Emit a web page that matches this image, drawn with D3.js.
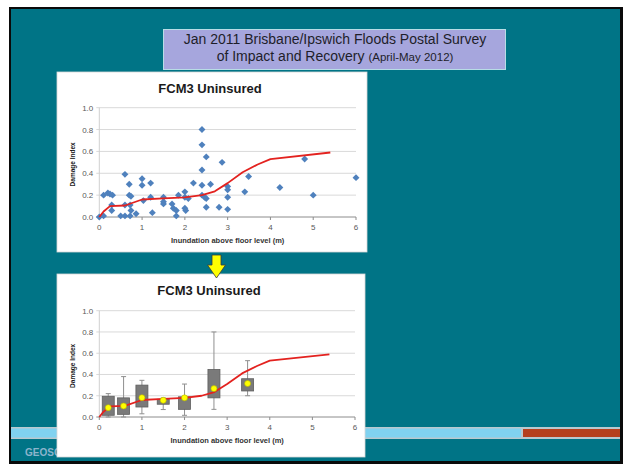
<!DOCTYPE html>
<html>
<head>
<meta charset="utf-8">
<script src="https://cdn.jsdelivr.net/npm/d3@7"></script>
<style>
  body { margin: 0; background: #ffffff; }
  svg { display: block; }
</style>
</head>
<body>
<div id="chartContainer"></div>
<script>
// slide size
var WIDTH = 623;
var HEIGHT = 464;
var FONT = "'Liberation Sans', Arial, sans-serif";

// axis ticks
var X_TICKS = [0, 1, 2, 3, 4, 5, 6];
var Y_TICKS = [0, 0.2, 0.4, 0.6, 0.8, 1.0];

// survey responses (scatter, top chart)
var scatterX = [0, 0.1, 0.1, 0.2, 0.25, 0.31, 0.29, 0.29, 0.5, 0.6, 0.6, 0.6,
  0.7, 0.7, 0.74, 0.72, 0.74, 0.72, 0.86, 1.0, 1.0, 1.03, 1.2, 1.2, 1.24,
  1.5, 1.5, 1.5, 1.7, 1.73, 1.8, 1.8, 1.85, 2.0, 2.0, 2.0, 2.02, 2.08, 2.2,
  2.4, 2.4, 2.5, 2.4, 2.4, 2.4, 2.46, 2.5, 2.5, 2.6, 2.87, 2.8, 3.0, 3.0,
  3.0, 3.0, 3.4, 3.49, 4.22, 4.8, 5.0, 6.0];
var scatterY = [0, 0.01, 0.2, 0.22, 0.21, 0.2, 0.11, 0.06, 0.01, 0.39, 0.11, 0.01,
  0.3, 0.2, 0.19, 0.11, 0.06, 0.01, 0.03, 0.35, 0.29, 0.15, 0.31, 0.18, 0.04,
  0.18, 0.14, 0.12, 0.12, 0.08, 0.06, 0.01, 0.2, 0.23, 0.18, 0.08, 0.06, 0.17, 0.31,
  0.8, 0.66, 0.55, 0.43, 0.29, 0.2, 0.18, 0.17, 0.09, 0.3, 0.5, 0.09, 0.28, 0.25,
  0.18, 0.07, 0.23, 0.37, 0.27, 0.53, 0.2, 0.36];

// FCM3 damage curve (red line)
var curveX = [0, 0.1, 0.25, 0.6, 1.0, 1.5, 2.0, 2.4, 2.7, 3.0, 3.35, 3.7, 4.0, 5.4];
var curveY = [0, 0.05, 0.1, 0.105, 0.16, 0.17, 0.18, 0.2, 0.235, 0.31, 0.41, 0.48, 0.53, 0.59];

// binned box plots (bottom chart)
var boxX    = [0.21, 0.57, 1.0, 1.5, 2.0, 2.69, 3.48];
var boxMin  = [0.0, 0.0, 0.03, 0.07, 0.016, 0.072, 0.2];
var boxQ1   = [0.016, 0.025, 0.094, 0.12, 0.072, 0.18, 0.245];
var boxQ3   = [0.195, 0.18, 0.3, 0.167, 0.19, 0.447, 0.36];
var boxMax  = [0.22, 0.38, 0.345, 0.18, 0.31, 0.8, 0.53];
var boxMean = [0.088, 0.104, 0.182, 0.157, 0.18, 0.267, 0.315];

var svg = d3.select("#chartContainer").append("svg")
  .attr("width", WIDTH)
  .attr("height", HEIGHT);

// ---- slide background ----
svg.append("rect").attr("x", 0).attr("y", 0).attr("width", WIDTH).attr("height", HEIGHT)
  .attr("fill", "#ffffff");
svg.append("rect").attr("x", 9).attr("y", 7).attr("width", WIDTH - 9).attr("height", HEIGHT - 7)
  .attr("fill", "#0a0a0a");
svg.append("rect").attr("x", 11).attr("y", 9).attr("width", WIDTH - 14).attr("height", HEIGHT - 12)
  .attr("fill", "#007486");

// footer band
svg.append("rect").attr("x", 11).attr("y", 427).attr("width", 609).attr("height", 12)
  .attr("fill", "#b9c9cf");
svg.append("rect").attr("x", 11).attr("y", 428.5).attr("width", 510).attr("height", 9)
  .attr("fill", "#80d2f0");
svg.append("rect").attr("x", 523).attr("y", 429).attr("width", 97).attr("height", 8)
  .attr("fill", "#b5401e");
svg.append("text").attr("x", 25).attr("y", 456)
  .style("font-family", FONT).style("font-size", "10px").style("font-weight", "bold")
  .attr("fill", "#8cb4cc")
  .text("GEOSCIENCE AUSTRALIA");

// title box
svg.append("rect").attr("x", 163.5).attr("y", 29.5).attr("width", 342).attr("height", 40)
  .attr("fill", "#a6a6dd").attr("stroke", "#b8dde6").attr("stroke-width", 1);
svg.append("text").attr("x", 335).attr("y", 43.5).attr("text-anchor", "middle")
  .style("font-family", FONT).style("font-size", "14px").attr("fill", "#1e1e2a")
  .text("Jan 2011 Brisbane/Ipswich Floods Postal Survey");
var t2 = svg.append("text").attr("x", 335).attr("y", 60.5).attr("text-anchor", "middle")
  .style("font-family", FONT).attr("fill", "#1e1e2a");
t2.append("tspan").style("font-size", "14px").text("of Impact and Recovery ");
t2.append("tspan").style("font-size", "11.5px").text("(April-May 2012)");

// draws one white chart panel with gridlines and axes, returns scales
function draw_panel(px, py, pw, ph, plot) {
  var g = svg.append("g");
  g.append("rect").attr("x", px).attr("y", py).attr("width", pw).attr("height", ph)
    .attr("fill", "#ffffff").attr("stroke", "#d8d8d8").attr("stroke-width", 0.8);

  var x = d3.scaleLinear().domain([0, 6]).range([plot.left, plot.right]);
  var y = d3.scaleLinear().domain([0, 1]).range([plot.bottom, plot.top]);

  // horizontal gridlines
  g.selectAll(".grid").data(Y_TICKS.slice(1)).enter().append("line")
    .attr("x1", x(0) - 3).attr("x2", x(6))
    .attr("y1", function (d) { return y(d); })
    .attr("y2", function (d) { return y(d); })
    .attr("stroke", "#d9d9d9").attr("stroke-width", 1);

  // y axis line + x axis line
  g.append("line").attr("x1", x(0)).attr("x2", x(0)).attr("y1", y(1)).attr("y2", y(0))
    .attr("stroke", "#d0d0d0");
  g.append("line").attr("x1", x(0) - 3).attr("x2", x(6)).attr("y1", y(0)).attr("y2", y(0))
    .attr("stroke", "#8c8c8c");
  g.selectAll(".xtick").data(X_TICKS).enter().append("line")
    .attr("x1", function (d) { return x(d); })
    .attr("x2", function (d) { return x(d); })
    .attr("y1", y(0)).attr("y2", y(0) + 3)
    .attr("stroke", "#8c8c8c");

  // tick labels
  g.selectAll(".ylab").data(Y_TICKS).enter().append("text")
    .attr("x", x(0) - 6)
    .attr("y", function (d) { return y(d) + 3; })
    .attr("text-anchor", "end")
    .style("font-family", FONT).style("font-size", "8px").attr("fill", "#595959")
    .text(function (d) { return d3.format(".1f")(d); });
  g.selectAll(".xlab").data(X_TICKS).enter().append("text")
    .attr("x", function (d) { return x(d); })
    .attr("y", y(0) + 13)
    .attr("text-anchor", "middle")
    .style("font-family", FONT).style("font-size", "8px").attr("fill", "#595959")
    .text(function (d) { return d; });

  // titles
  g.append("text").attr("x", px + pw / 2 - 2).attr("y", py + 21)
    .attr("text-anchor", "middle")
    .style("font-family", FONT).style("font-size", "13px").style("font-weight", "bold")
    .attr("fill", "#1a1a1a")
    .text("FCM3 Uninsured");
  g.append("text").attr("x", (x(0) + x(6)) / 2).attr("y", y(0) + 26)
    .attr("text-anchor", "middle")
    .style("font-family", FONT).style("font-size", "7.5px").style("font-weight", "bold")
    .attr("fill", "#333333")
    .text("Inundation above floor level (m)");
  g.append("text")
    .attr("transform", "translate(" + (plot.left - 24) + "," + ((y(0) + y(1)) / 2 + 2) + ") rotate(-90)")
    .attr("text-anchor", "middle")
    .style("font-family", FONT).style("font-size", "6.5px").style("font-weight", "bold")
    .attr("fill", "#1a1a1a")
    .text("Damage Index");

  return { g: g, x: x, y: y };
}

function draw_curve(p) {
  var line = d3.line()
    .x(function (d, i) { return p.x(curveX[i]); })
    .y(function (d, i) { return p.y(curveY[i]); })
    .curve(d3.curveLinear);
  p.g.append("path").datum(curveX)
    .attr("d", line)
    .attr("fill", "none").attr("stroke", "#e3221f").attr("stroke-width", 1.8)
    .attr("stroke-linejoin", "round");
}

// ---- top chart: scatter ----
var topChart = draw_panel(57, 72, 310, 180, { left: 99.3, right: 356, top: 107.7, bottom: 217 });
var diamond = d3.symbol().type(d3.symbolSquare).size(24);
topChart.g.selectAll(".pt").data(scatterX).enter().append("path")
  .attr("d", diamond)
  .attr("transform", function (d, i) {
    return "translate(" + topChart.x(d) + "," + topChart.y(scatterY[i]) + ") rotate(45)";
  })
  .attr("fill", "#4f81bd");
draw_curve(topChart);

// ---- bottom chart: box plots ----
var botChart = draw_panel(57, 274, 308, 183, { left: 99.3, right: 355, top: 310.7, bottom: 417 });
var BOX_W = 12;
var boxes = botChart.g.selectAll(".box").data(boxX).enter().append("g");
boxes.append("line")
  .attr("x1", function (d) { return botChart.x(d); })
  .attr("x2", function (d) { return botChart.x(d); })
  .attr("y1", function (d, i) { return botChart.y(boxMax[i]); })
  .attr("y2", function (d, i) { return botChart.y(boxMin[i]); })
  .attr("stroke", "#8f8f8f").attr("stroke-width", 1);
[boxMax, boxMin].forEach(function (arr) {
  boxes.append("line")
    .attr("x1", function (d) { return botChart.x(d) - 2.5; })
    .attr("x2", function (d) { return botChart.x(d) + 2.5; })
    .attr("y1", function (d, i) { return botChart.y(arr[i]); })
    .attr("y2", function (d, i) { return botChart.y(arr[i]); })
    .attr("stroke", "#8f8f8f").attr("stroke-width", 1);
});
boxes.append("rect")
  .attr("x", function (d) { return botChart.x(d) - BOX_W / 2; })
  .attr("y", function (d, i) { return botChart.y(boxQ3[i]); })
  .attr("width", BOX_W)
  .attr("height", function (d, i) { return botChart.y(boxQ1[i]) - botChart.y(boxQ3[i]); })
  .attr("fill", "#7a7a7a").attr("stroke", "#5e5e5e").attr("stroke-width", 0.8);
draw_curve(botChart);
botChart.g.selectAll(".mean").data(boxX).enter().append("circle")
  .attr("cx", function (d) { return botChart.x(d); })
  .attr("cy", function (d, i) { return botChart.y(boxMean[i]); })
  .attr("r", 3)
  .attr("fill", "#ffff00").attr("stroke", "#b5b500").attr("stroke-width", 0.6);

// yellow arrow between the charts
svg.append("polygon")
  .attr("points", "212,255 221,255 221,265 225.5,265 216.5,278 207.5,265 212,265")
  .attr("fill", "#ffff00").attr("stroke", "#3a3a3a").attr("stroke-width", 0.8);
</script>
